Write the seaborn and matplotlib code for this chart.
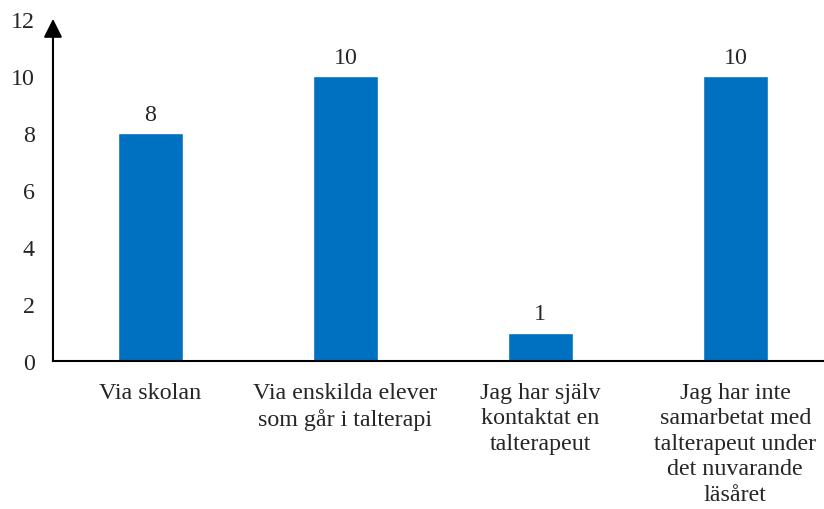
import matplotlib
matplotlib.use("Agg")
import matplotlib.pyplot as plt
import seaborn as sns
import pandas as pd

categories = [
    "Via skolan",
    "Via enskilda elever\nsom går i talterapi",
    "Jag har själv\nkontaktat en\ntalterapeut",
    "Jag har inte\nsamarbetat med\ntalterapeut under\ndet nuvarande\nläsåret",
]
values = [8, 10, 1, 10]
yticks = [0, 2, 4, 6, 8, 10, 12]

sns.set_theme(style="white")
plt.rcParams["font.family"] = ["Liberation Serif", "DejaVu Serif"]

FS = 17.3

df = pd.DataFrame({"cat": categories, "val": values})

fig = plt.figure(figsize=(8.24, 5.10), dpi=100)
ax = fig.add_axes([0.0643, 0.290, 0.9357, 0.671])

sns.barplot(data=df, x="cat", y="val", color="#0070C0", saturation=1,
            width=0.333, ax=ax)

ax.set_ylim(0, 12)
ax.set_xlim(-0.5, 3.455)
ax.set_yticks(yticks)
ax.set_yticklabels([str(t) for t in yticks], fontsize=FS)
ax.tick_params(axis="y", length=0, pad=13)
ax.tick_params(axis="x", length=0, pad=15)
for lbl in ax.get_xticklabels():
    lbl.set_fontsize(FS)
    lbl.set_linespacing(1.28)
ax.set_xlabel("")
ax.set_ylabel("")

for c in ax.containers:
    ax.bar_label(c, labels=[str(v) for v in values], padding=6, fontsize=FS)

for s in ["top", "right", "left"]:
    ax.spines[s].set_visible(False)
ax.spines["bottom"].set_color("black")
ax.spines["bottom"].set_linewidth(1.5)

# vertical axis drawn as an arrow
ax.annotate("", xy=(0, 1.0), xycoords="axes fraction",
            xytext=(0, 0), textcoords="axes fraction",
            arrowprops=dict(arrowstyle="-|>", color="black", lw=1.5,
                            mutation_scale=28, shrinkA=0, shrinkB=0),
            annotation_clip=False)

fig.savefig("out.png", dpi=100)
